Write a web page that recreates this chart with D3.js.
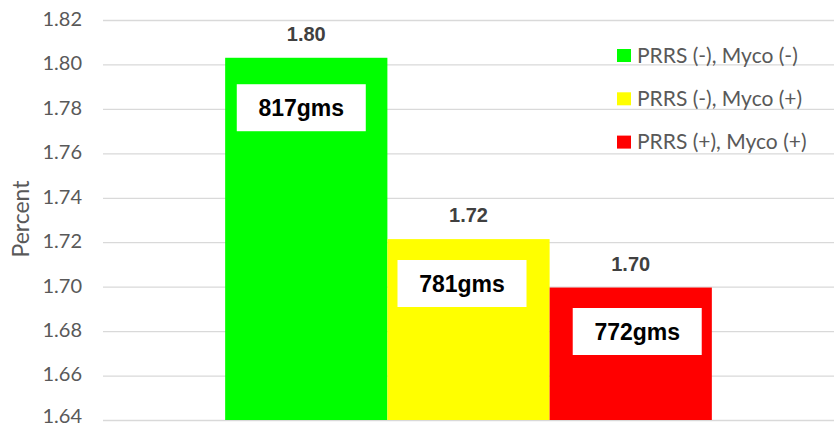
<!DOCTYPE html>
<html><head><meta charset="utf-8">
<script src="https://cdn.jsdelivr.net/npm/d3@7"></script>
<style>
html,body{margin:0;padding:0;background:#fff;}
svg{display:block;}
</style></head>
<body>
<svg id="chart" width="834" height="428"></svg>
<script>
// ---- data ----
const series = ["PRRS (-), Myco (-)", "PRRS (-), Myco (+)", "PRRS (+), Myco (+)"];
const values = [1.803, 1.7214, 1.6996];
const colors = ["#00FF00", "#FFFF00", "#FF0000"];
const weightLabels = ["817gms", "781gms", "772gms"];
const weightLabelAnchor = [1.7911, 1.712, 1.6904]; // top of each white box, in axis units
const yTicks = [1.64, 1.66, 1.68, 1.70, 1.72, 1.74, 1.76, 1.78, 1.80, 1.82];
const yDomain = [1.64, 1.82];
const yTitle = "Percent";

// ---- layout ----
const svg = d3.select("#chart");
const mLeft = 103, mRight = 834, mTop = 20, mBottom = 420;
const boxShift = [-5, -6.5, 6.5];
const boxW = 129, boxH = 47;

const y = d3.scaleLinear().domain(yDomain).range([mBottom, mTop]);
const x0 = d3.scaleBand().domain(["all"]).range([mLeft, mRight]).paddingOuter(0.251).paddingInner(0);
const x1 = d3.scaleBand().domain(series).range([0, x0.bandwidth()]).padding(0);

// gridlines
const yAxis = d3.axisLeft(y).tickValues(yTicks).tickFormat(d3.format(".2f"))
  .tickSize(-(mRight - mLeft)).tickPadding(21);
const gAxis = svg.append("g").attr("transform", `translate(${mLeft},0)`).call(yAxis);
gAxis.select(".domain").remove();
gAxis.selectAll(".tick line").attr("stroke", "#D9D9D9").attr("stroke-width", 1.3);
gAxis.selectAll(".tick text").attr("fill", "#595959")
  .attr("dy", d => d === yDomain[0] ? "0.1em" : "0.27em")
  .style("font-family", "Lato, 'Open Sans', sans-serif").style("font-size", "20px");

// y title
svg.append("text")
  .attr("transform", `translate(29,${(mTop + mBottom) / 2 - 1}) rotate(-90)`)
  .attr("text-anchor", "middle")
  .attr("fill", "#595959")
  .style("font-family", "Lato, 'Open Sans', sans-serif").style("font-size", "23px")
  .text(yTitle);

// bars
const g = svg.append("g").attr("transform", `translate(${x0("all")},0)`);
g.selectAll("rect.bar").data(series).join("rect").attr("class", "bar")
  .attr("x", d => x1(d))
  .attr("width", x1.bandwidth())
  .attr("y", (d, i) => y(values[i]))
  .attr("height", (d, i) => y(yDomain[0]) - y(values[i]))
  .attr("fill", (d, i) => colors[i]);

// value labels
g.selectAll("text.val").data(series).join("text").attr("class", "val")
  .attr("x", d => x1(d) + x1.bandwidth() / 2)
  .attr("y", (d, i) => y(values[i]) - 17)
  .attr("text-anchor", "middle")
  .attr("fill", "#404040")
  .style("font-family", "'Liberation Sans', Arial, sans-serif").style("font-weight", "bold").style("font-size", "20px")
  .text((d, i) => d3.format(".2f")(values[i]));

// white boxes with weights
series.forEach((s, i) => {
  const cx = x1(s) + x1.bandwidth() / 2 + boxShift[i];
  const ty = y(weightLabelAnchor[i]);
  g.append("rect").attr("x", cx - boxW / 2).attr("y", ty).attr("width", boxW).attr("height", boxH).attr("fill", "#fff");
  g.append("text").attr("x", cx).attr("y", ty + boxH / 2 + 8)
    .attr("text-anchor", "middle").attr("fill", "#000")
    .style("font-family", "'Liberation Sans', Arial, sans-serif").style("font-weight", "bold").style("font-size", "23px")
    .text(weightLabels[i]);
});

// legend
const lg = svg.append("g").attr("transform", "translate(617,49)");
series.forEach((s, i) => {
  const it = lg.append("g").attr("transform", `translate(0,${i * 43.3})`);
  it.append("rect").attr("width", 14).attr("height", 13).attr("fill", colors[i]);
  it.append("text").attr("x", 20).attr("y", 13.8)
    .attr("fill", "#595959")
    .style("font-family", "Lato, 'Open Sans', sans-serif").style("font-size", "21px")
    .text(s);
});
</script>
</body></html>
